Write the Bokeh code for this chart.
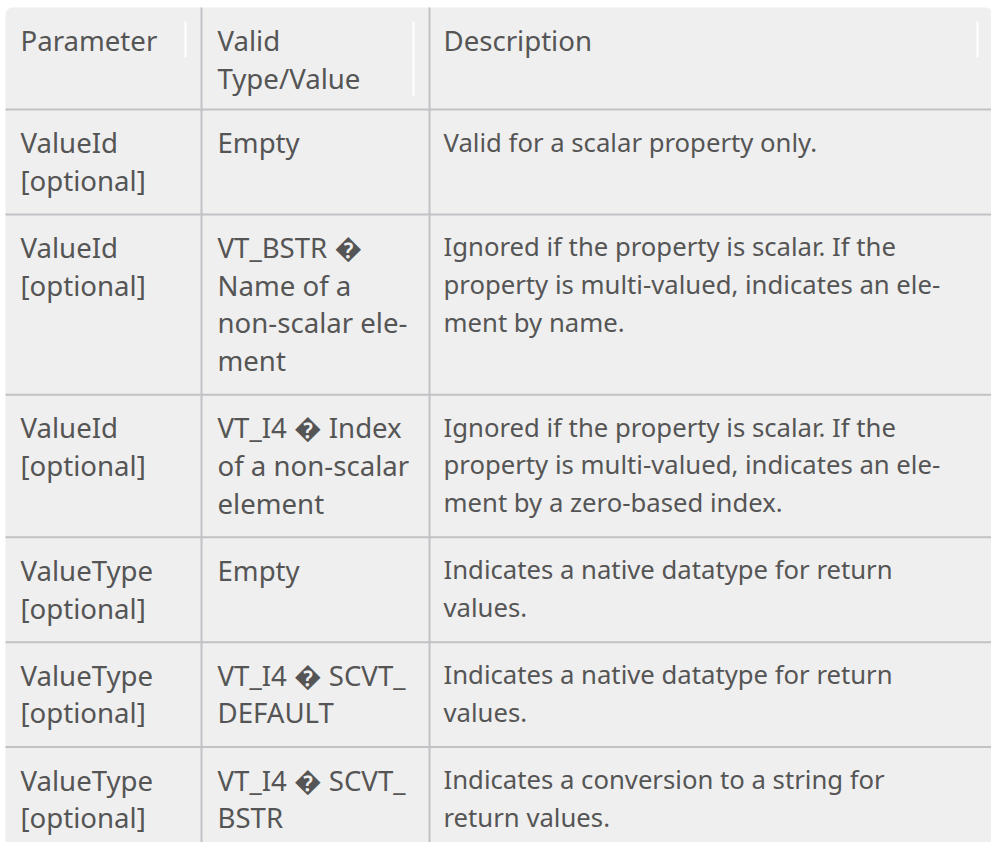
from bokeh.plotting import figure
from bokeh.models import Range1d, ColumnDataSource
from bokeh.core.properties import value
from bokeh.embed import file_html
from bokeh.resources import INLINE

# ---- table content ----
headers = [["Parameter"], ["Valid", "Type/Value"], ["Description"]]
parameters = [
    ["ValueId", "[optional]"],
    ["ValueId", "[optional]"],
    ["ValueId", "[optional]"],
    ["ValueType", "[optional]"],
    ["ValueType", "[optional]"],
    ["ValueType", "[optional]"],
]
valid_values = [
    ["Empty"],
    ["VT_BSTR \ufffd", "Name of a", "non-scalar ele-", "ment"],
    ["VT_I4 \ufffd Index", "of a non-scalar", "element"],
    ["Empty"],
    ["VT_I4 \ufffd SCVT_", "DEFAULT"],
    ["VT_I4 \ufffd SCVT_", "BSTR"],
]
descriptions = [
    ["Valid for a scalar property only."],
    ["Ignored if the property is scalar. If the",
     "property is multi-valued, indicates an ele-",
     "ment by name."],
    ["Ignored if the property is scalar. If the",
     "property is multi-valued, indicates an ele-",
     "ment by a zero-based index."],
    ["Indicates a native datatype for return", "values."],
    ["Indicates a native datatype for return", "values."],
    ["Indicates a conversion to a string for", "return values."],
]

# ---- layout constants ----
W, H = 991, 842
col_edges = [5, 201, 429, 991]
text_pad = [15, 16, 14]
top = 7
header_h = 102
line_h = 37.7
row_pad = 29.5
first_base = 32.5
font_main = 27.6      # header, parameter and type columns
font_desc = 25.7      # description body text
txt_color = "#555555"
bg = "#efefef"
rule = "#c2c2c6"

p = figure(width=W, height=H, x_range=Range1d(0, W), y_range=Range1d(H, 0),
           x_axis_type=None, y_axis_type=None, toolbar_location=None,
           output_backend="svg", min_border=0)
p.grid.visible = False
p.outline_line_color = None
p.background_fill_color = "white"
p.border_fill_color = "white"

# background
p.quad(left=[col_edges[0]], right=[col_edges[-1] + 1], top=[top], bottom=[H + 20],
       fill_color=bg, line_color=None, border_radius=7)

# row boundaries
rows = list(zip(parameters, valid_values, descriptions))
bounds = [top, top + header_h]
for r in rows:
    n = max(len(c) for c in r)
    bounds.append(bounds[-1] + row_pad + n * line_h)

# horizontal rules
hy = bounds[1:]
p.segment(x0=[col_edges[0]] * len(hy), x1=[col_edges[-1] + 1] * len(hy), y0=hy, y1=hy,
          line_color=rule, line_width=2)
# vertical rules
p.segment(x0=col_edges[1:3], x1=col_edges[1:3], y0=[top] * 2, y1=[H + 20] * 2,
          line_color=rule, line_width=2)

# header resize handles (white)
hx = [col_edges[1] - 16, col_edges[2] - 16, col_edges[3] - 14]
hy0 = [top + 14] * 3
hy1 = [top + 14 + 36 * len(h) + (2 if len(h) > 1 else 0) for h in headers]
p.segment(x0=hx, x1=hx, y0=hy0, y1=hy1, line_color="white", line_width=2)

# text
xs, ys, ts, fs = [], [], [], []
all_rows = [tuple(headers)] + rows
for ri, r in enumerate(all_rows):
    rtop = bounds[ri]
    for ci, cell in enumerate(r):
        size = font_desc if (ci == 2 and ri > 0) else font_main
        for li, line in enumerate(cell):
            xs.append(col_edges[ci] + text_pad[ci])
            ys.append(rtop + first_base + li * line_h)
            ts.append(line)
            fs.append(f"{size}px")

src = ColumnDataSource(dict(x=xs, y=ys, t=ts, fs=fs))
p.text(x="x", y="y", text="t", source=src, text_font=value("Noto Sans"),
       text_font_size="fs", text_color=txt_color,
       text_baseline="alphabetic", text_align="left")

open("out.html", "w").write(file_html(p, INLINE))
